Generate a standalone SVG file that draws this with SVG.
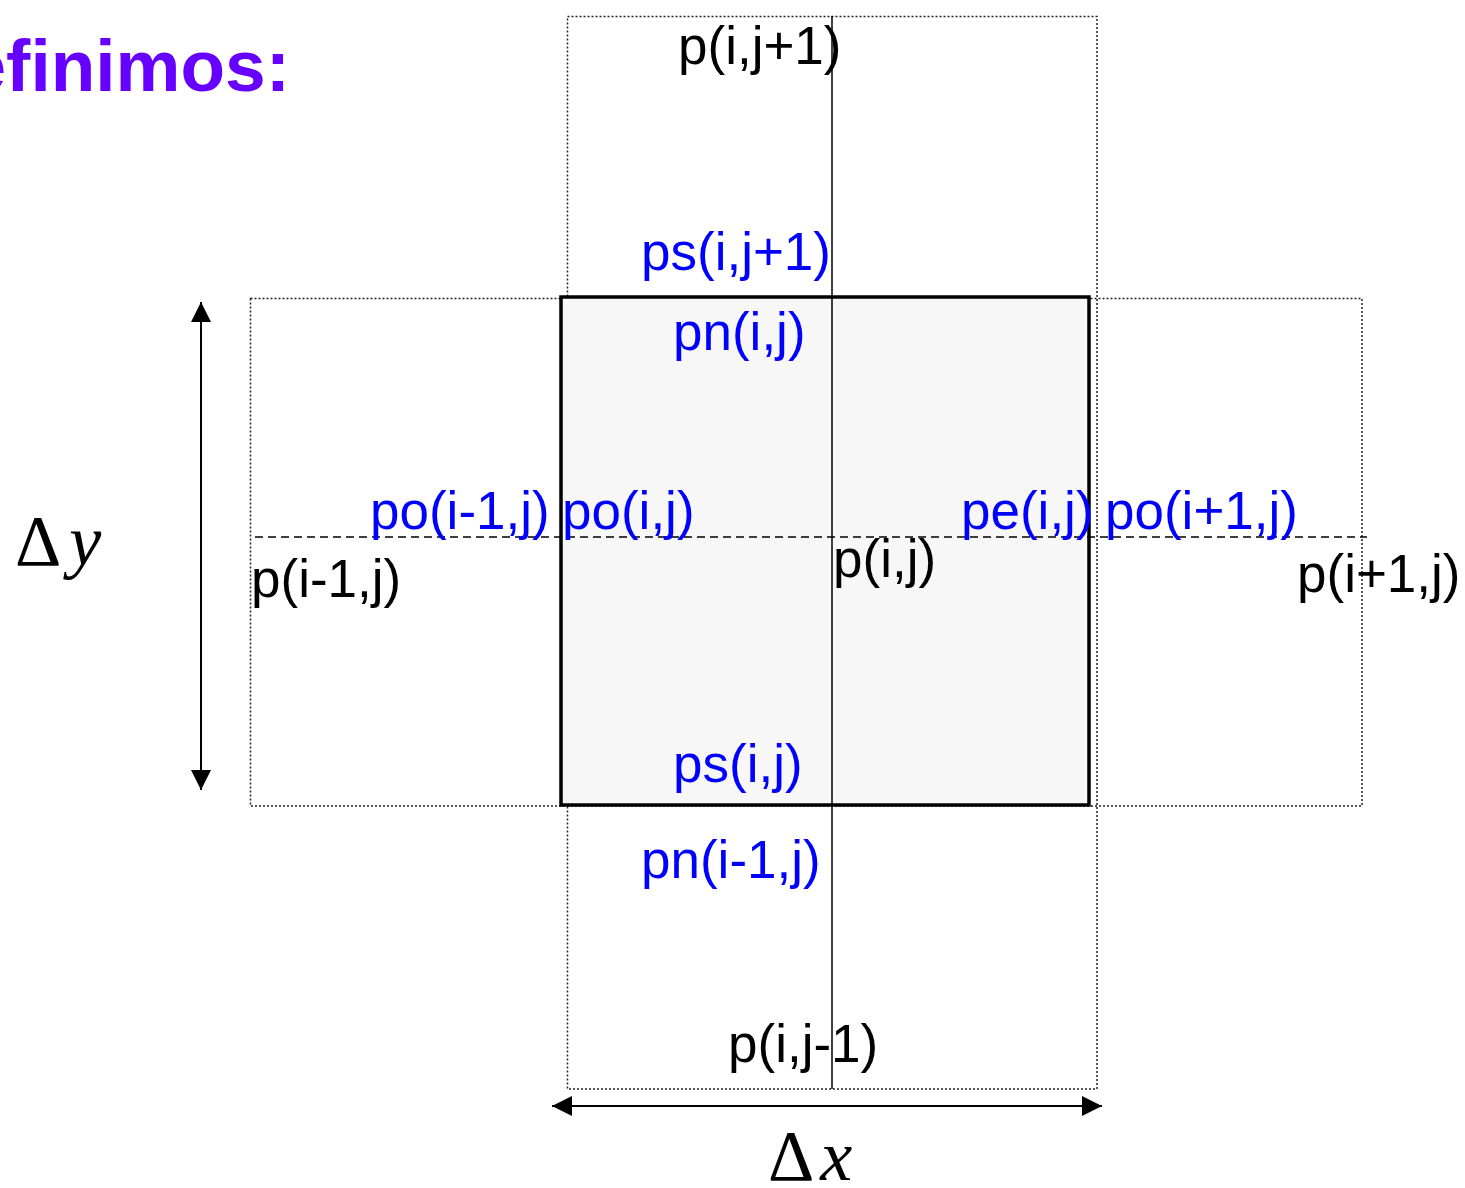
<svg xmlns="http://www.w3.org/2000/svg" width="1465" height="1188" viewBox="0 0 1465 1188">
<style>
.dot{fill:none;stroke:#222;stroke-width:1.5;stroke-dasharray:2,2}
.lbl{font-family:"Liberation Sans",Arial,sans-serif;font-size:53px}
.blk{fill:#000}
.blu{fill:#0000ff}
.math{font-family:"Liberation Serif","Times New Roman",serif;font-size:72px;fill:#000}
</style>
<defs>
<marker id="ah" viewBox="0 0 20 20" refX="20" refY="10" markerWidth="20" markerHeight="20" markerUnits="userSpaceOnUse" orient="auto-start-reverse">
<path d="M0,0 L20,10 L0,20 Z" fill="#000"/>
</marker>
</defs>
<rect width="1465" height="1188" fill="#fff"/>
<text x="290" y="91" text-anchor="end" style="font-family:'Liberation Sans',Arial,sans-serif;font-size:73px;font-weight:bold;fill:#6600ff">Definimos:</text>
<g id="cells">
<rect id="cell-vertical" class="dot" x="567.5" y="16.5" width="529.5" height="1072.5"/>
<rect id="cell-horizontal" class="dot" x="250.5" y="298.5" width="1111.5" height="507.5"/>
<rect id="cell-center" x="561" y="297" width="528" height="508" fill="#f7f7f7" stroke="#000" stroke-width="3.5"/>
</g>
<g id="connectors">
<line x1="832" y1="16" x2="832" y2="1089" stroke="#000" stroke-width="1.5"/>
<line x1="255" y1="537" x2="1367" y2="537" stroke="#000" stroke-width="1.5" stroke-dasharray="8,5"/>
<line x1="201" y1="302" x2="201" y2="790" stroke="#000" stroke-width="2" marker-start="url(#ah)" marker-end="url(#ah)"/>
<line x1="552" y1="1106" x2="1102" y2="1106" stroke="#000" stroke-width="2" marker-start="url(#ah)" marker-end="url(#ah)"/>
</g>
<g id="labels">
<text class="lbl blk" x="678" y="64">p(i,j+1)</text>
<text class="lbl blu" x="641" y="270">ps(i,j+1)</text>
<text class="lbl blu" x="673" y="350">pn(i,j)</text>
<text class="lbl blu" x="370" y="529">po(i-1,j)</text>
<text class="lbl blu" x="562" y="529">po(i,j)</text>
<text class="lbl blu" x="961" y="529">pe(i,j)</text>
<text class="lbl blu" x="1105" y="529">po(i+1,j)</text>
<text class="lbl blk" x="251" y="597">p(i-1,j)</text>
<text class="lbl blk" x="833" y="577">p(i,j)</text>
<text class="lbl blk" x="1297" y="592">p(i+1,j)</text>
<text class="lbl blu" x="673" y="782">ps(i,j)</text>
<text class="lbl blu" x="641" y="878">pn(i-1,j)</text>
<text class="lbl blk" x="728" y="1062">p(i,j-1)</text>
<text class="math" x="15" y="565">Δ<tspan dx="8" font-style="italic">y</tspan></text>
<text class="math" x="768" y="1180">Δ<tspan dx="6" font-style="italic">x</tspan></text>
</g>
</svg>
